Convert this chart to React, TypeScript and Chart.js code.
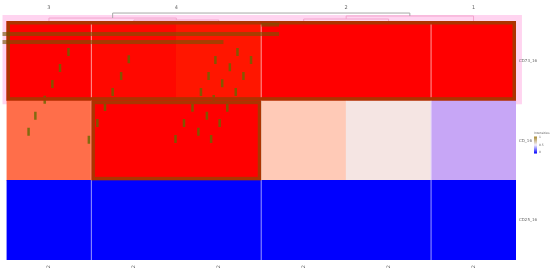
import React, { useEffect, useRef } from 'react';
import { Chart, registerables } from 'chart.js';
Chart.register(...registerables);

// ---- data ----
const columns = ['s1', 's2', 's3', 's4', 's5', 's6'];
const columnTickLabels = ['2', '2', '2', '2', '2', '2'];
const rowLabels = ['CD25_16', 'CD_16', 'CD73_16']; // bottom -> top
const cellValues = [
  [1, 1, 1, 1, 1, 1],
  [1, 1, 1, 1, 1, 1],
  [1, 1, 1, 1, 1, 1],
];
const cellColors = [
  ['#0000ff', '#0000ff', '#0000ff', '#0000ff', '#0000ff', '#0000ff'],
  ['#ff6e4a', '#ff0000', '#ff0000', '#ffcab7', '#f5e5e3', '#c7a6f6'],
  ['#ff0000', '#ff0800', '#ff1600', '#ff0000', '#ff0000', '#ff0000'],
];
const groupLabels = ['3', '4', '2', '1'];
const groupPositions = [0.5, 2, 4, 5.5];
// dendrogram merges: left x, right x, left child height, right child height, merge height
const mergeLeftX = [1.5, 0.5, 3.5, 4.0, 1.25];
const mergeRightX = [2.5, 2.0, 4.5, 5.5, 4.75];
const mergeLeftH = [3.0, 3.0, 3.0, 3.025, 3.037];
const mergeRightH = [3.0, 3.012, 3.0, 3.0, 3.063];
const mergeH = [3.012, 3.037, 3.025, 3.063, 3.1];
// scattered marks
const markX = [0.73, 0.63, 0.54, 0.45, 0.34, 0.26, 1.44, 1.35, 1.25, 1.16, 1.07, 0.97,
  2.72, 2.63, 2.54, 2.44, 2.36, 2.26, 2.46, 2.38, 2.29, 2.19, 2.09, 1.99,
  2.88, 2.79, 2.70, 2.60, 2.51, 2.41];
const markY = [2.61, 2.41, 2.21, 2.01, 1.81, 1.61, 2.52, 2.31, 2.11, 1.92, 1.72, 1.51,
  2.61, 2.42, 2.22, 2.02, 1.81, 1.61, 2.51, 2.31, 2.11, 1.91, 1.72, 1.52,
  2.51, 2.31, 2.11, 1.91, 1.72, 1.52];
// highlighted blocks (x0, x1, y0, y1)
const boxX0 = [0, 1];
const boxX1 = [6, 3];
const boxY0 = [2, 1];
const boxY1 = [3, 2];
// horizontal stripes (x0, x1, y0, y1)
const stripeX0 = [-0.047, -0.047, 3.0];
const stripeX1 = [3.21, 2.555, 3.21];
const stripeY0 = [2.812, 2.711, 2.93];
const stripeY1 = [2.862, 2.761, 2.975];
const separatorsAt = [1, 3, 5];
const legendTicks = ['1', '0.5', '0'];

const overlayPlugin = {
  id: 'heatOverlay',
  beforeDatasetsDraw(chart: any) {
    const { ctx } = chart;
    const xs = chart.scales.xl, ys = chart.scales.yl;
    ctx.save();
    ctx.fillStyle = '#ffd4f0';
    const x0 = xs.getPixelForValue(-0.047), x1 = xs.getPixelForValue(6.07);
    const y0 = ys.getPixelForValue(3.075), y1 = ys.getPixelForValue(1.955);
    ctx.fillRect(x0, y0, x1 - x0, y1 - y0);
    ctx.restore();
  },
  afterDatasetsDraw(chart: any) {
    const { ctx, chartArea } = chart;
    const xs = chart.scales.xl, ys = chart.scales.yl;
    const px = (v: number) => xs.getPixelForValue(v);
    const py = (v: number) => ys.getPixelForValue(v);
    ctx.save();
    // separators
    ctx.strokeStyle = 'rgba(255,255,255,0.5)';
    ctx.lineWidth = 1.2;
    separatorsAt.forEach((s) => {
      ctx.beginPath();
      ctx.moveTo(px(s), py(3));
      ctx.lineTo(px(s), py(0));
      ctx.stroke();
    });
    // boxes
    ctx.strokeStyle = '#ac3400';
    ctx.lineWidth = 3.5;
    boxX0.forEach((_, i) => {
      const a = px(boxX0[i]), b = px(boxX1[i]);
      const t = py(boxY1[i]), u = py(boxY0[i]);
      ctx.strokeRect(a + 1.75, t + 1.75, b - a - 3.5, u - t - 3.5);
    });
    // stripes
    ctx.fillStyle = 'rgba(115,85,0,0.62)';
    stripeX0.forEach((_, i) => {
      const a = px(stripeX0[i]), b = px(stripeX1[i]);
      const t = py(stripeY1[i]), u = py(stripeY0[i]);
      ctx.fillRect(a, t, b - a, u - t);
    });
    // dendrogram
    mergeH.forEach((h, i) => {
      ctx.strokeStyle = i === mergeH.length - 1 ? '#a8a8a8' : '#f2a4cc';
      ctx.lineWidth = 1;
      ctx.beginPath();
      ctx.moveTo(px(mergeLeftX[i]), py(mergeLeftH[i]));
      ctx.lineTo(px(mergeLeftX[i]), py(h));
      ctx.lineTo(px(mergeRightX[i]), py(h));
      ctx.lineTo(px(mergeRightX[i]), py(mergeRightH[i]));
      ctx.stroke();
    });
    // group labels
    ctx.fillStyle = '#666';
    ctx.font = '5px "DejaVu Sans"';
    ctx.textAlign = 'center';
    ctx.textBaseline = 'middle';
    groupLabels.forEach((l, i) => ctx.fillText(l, px(groupPositions[i]), py(3.163)));
    // column tick labels (rotated)
    columnTickLabels.forEach((l, i) => {
      ctx.save();
      ctx.translate(px(i + 0.5), chartArea.bottom + 5);
      ctx.rotate(-Math.PI / 2);
      ctx.textAlign = 'right';
      ctx.fillText(l, 0, 0);
      ctx.restore();
    });
    // row labels
    ctx.textAlign = 'left';
    ctx.font = '4px "DejaVu Sans"';
    rowLabels.forEach((l, i) => ctx.fillText(l, chartArea.right + 3, py(i + 0.5)));
    // legend
    const lx = chartArea.right + 18, ly = py(1.55);
    ctx.font = '3px "DejaVu Sans"';
    ctx.fillText('Intensities', lx, ly - 3);
    const g = ctx.createLinearGradient(0, ly, 0, ly + 17);
    g.addColorStop(0, '#a88a30');
    g.addColorStop(0.5, '#f4f0ff');
    g.addColorStop(1, '#0000ff');
    ctx.fillStyle = g;
    ctx.fillRect(lx, ly, 3, 17);
    ctx.fillStyle = '#666';
    legendTicks.forEach((t, i) => ctx.fillText(t, lx + 5, ly + 1 + i * 7.5));
    ctx.restore();
  },
};

export default function App() {
  const ref = useRef<HTMLCanvasElement | null>(null);
  useEffect(() => {
    document.body.style.margin = '0';
    const canvas = ref.current!;
    const datasets: any[] = cellValues.map((vals, r) => ({
      type: 'bar',
      label: rowLabels[r],
      data: vals,
      backgroundColor: cellColors[r],
      borderWidth: 0,
      barPercentage: 1,
      categoryPercentage: 1,
      grouped: false,
      xAxisID: 'x',
      yAxisID: 'y',
      order: 1,
    }));
    datasets.push({
      type: 'scatter',
      label: 'marks',
      data: markX.map((x, i) => ({ x, y: markY[i] })),
      xAxisID: 'xl',
      yAxisID: 'yl',
      pointStyle: 'line',
      rotation: 90,
      radius: 4,
      borderWidth: 2.5,
      borderColor: 'rgba(100,105,0,0.8)',
      order: -1,
    });
    const chart = new Chart(canvas, {
      type: 'bar',
      data: { labels: columns, datasets },
      options: {
        responsive: false,
        animation: false,
        devicePixelRatio: 1,
        layout: { padding: { left: 4, right: 34, top: 21, bottom: 13 } },
        plugins: { legend: { display: false }, tooltip: { enabled: false } },
        scales: {
          x: { type: 'category', stacked: true, display: false, offset: true },
          y: { stacked: true, min: 0, max: 3, display: false },
          xl: { type: 'linear', min: 0, max: 6, display: false, offset: false },
          yl: { type: 'linear', min: 0, max: 3, display: false, offset: false },
        },
      },
      plugins: [overlayPlugin],
    } as any);
    return () => chart.destroy();
  }, []);
  return (
    <div style={{ position: 'absolute', left: 0, top: 0, width: 550, height: 273 }}>
      <canvas ref={ref} width={550} height={273} style={{ width: 550, height: 273 }} />
    </div>
  );
}
